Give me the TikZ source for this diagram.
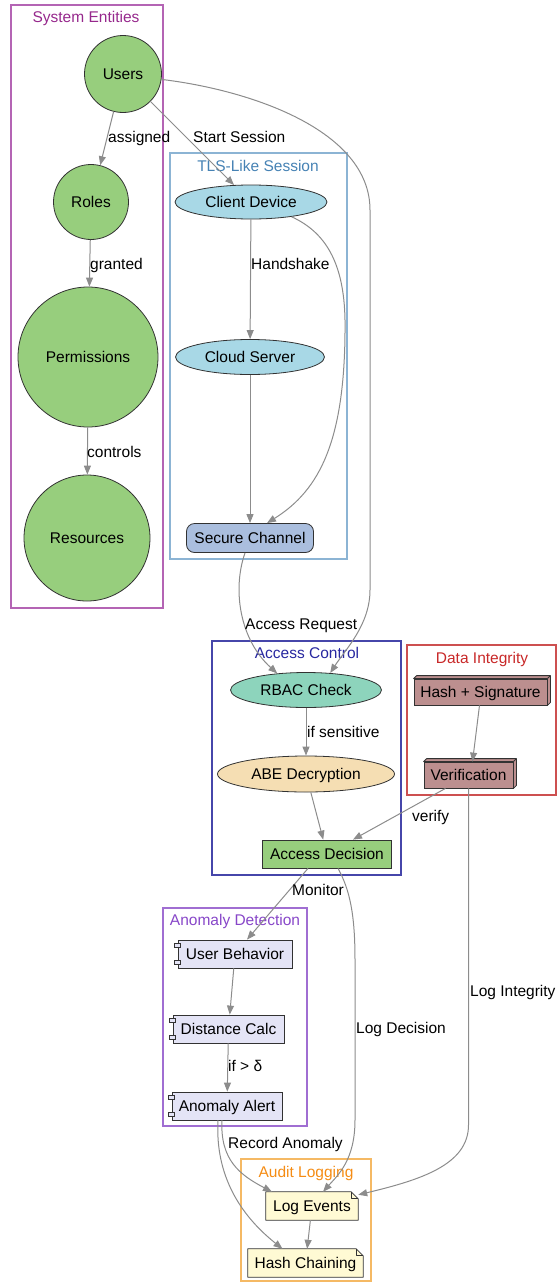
\documentclass[tikz,border=0pt]{standalone}
\usepackage{fontspec}
\setmainfont{Liberation Sans}
\usetikzlibrary{arrows.meta,shapes.geometric,backgrounds}
\definecolor{edgeclr}{RGB}{140,140,140}
\definecolor{nodeline}{RGB}{50,50,50}
\definecolor{greenfill}{RGB}{151,206,125}
\definecolor{bluefill}{RGB}{168,216,230}
\definecolor{steelfill}{RGB}{170,190,222}
\definecolor{aquafill}{RGB}{141,212,188}
\definecolor{wheatfill}{RGB}{245,222,179}
\definecolor{rosyfill}{RGB}{188,143,143}
\definecolor{lavfill}{RGB}{228,228,246}
\definecolor{notefill}{RGB}{255,250,212}
\definecolor{sysb}{RGB}{180,100,180}\definecolor{syst}{RGB}{150,40,140}
\definecolor{tlsb}{RGB}{140,180,212}\definecolor{tlst}{RGB}{70,130,180}
\definecolor{acb}{RGB}{70,70,170}\definecolor{act}{RGB}{40,40,160}
\definecolor{dib}{RGB}{205,80,80}\definecolor{dit}{RGB}{200,40,40}
\definecolor{adb}{RGB}{160,110,210}\definecolor{adt}{RGB}{135,70,200}
\definecolor{alb}{RGB}{245,185,100}\definecolor{alt}{RGB}{245,140,20}
\newcommand\boxdepth[1]{%
  \filldraw[draw=nodeline, fill=rosyfill, line width=0.8pt, line join=round]
    (#1.north west) -- ([xshift=3pt,yshift=3pt]#1.north west) -- ([xshift=3pt,yshift=3pt]#1.north east)
    -- ([xshift=3pt,yshift=3pt]#1.south east) -- (#1.south east) -- (#1.north east) -- cycle;
  \draw[draw=nodeline, line width=0.8pt] (#1.north east) -- ([xshift=3pt,yshift=3pt]#1.north east);}
\newcommand\compmarks[1]{%
  \filldraw[draw=nodeline, fill=lavfill, line width=0.8pt]
    ([xshift=-3pt,yshift=-4pt]#1.north west) rectangle ([xshift=3pt,yshift=-8pt]#1.north west)
    ([xshift=-3pt,yshift=4pt]#1.south west) rectangle ([xshift=3pt,yshift=8pt]#1.south west);}
\newcommand\notepath[1]{%
  \filldraw[draw=nodeline, fill=notefill, line width=0.8pt, line join=round]
    (#1.north west) -- ([xshift=-7pt]#1.north east) -- ([yshift=-7pt]#1.north east)
    -- (#1.south east) -- (#1.south west) -- cycle;
  \draw[draw=nodeline, line width=0.8pt, line join=round] ([xshift=-7pt]#1.north east)
    -- ([xshift=-7pt,yshift=-7pt]#1.north east) -- ([yshift=-7pt]#1.north east);}
\begin{document}
\begin{tikzpicture}[x=1pt,y=-1pt,
  every node/.style={font=\fontsize{15.5}{18}\selectfont, text=black, text height=11pt, text depth=0pt},
  cluster/.style={line width=1.2pt},
  circ/.style={circle, draw=nodeline, fill=greenfill, inner sep=0pt, line width=0.8pt},
  ell/.style={ellipse, draw=nodeline, inner sep=0pt, line width=0.8pt},
  boxnode/.style={rectangle, draw=nodeline, inner sep=0pt, line width=0.8pt},
  conn/.style={draw=edgeclr, line width=1pt, -{Triangle[length=9pt,width=7pt]}},
  lbl/.style={anchor=west, inner sep=0pt}]
\useasboundingbox (0,0) rectangle (559,1282);
% clusters
\draw[cluster,draw=sysb] (11,5) rectangle (163,608);
\node[text=syst] (tsys) at (86,17) {System Entities};
\draw[cluster,draw=tlsb] (170,153) rectangle (347,559);
\node[text=tlst] (ttls) at (258,166) {TLS-Like Session};
\draw[cluster,draw=acb] (212,641) rectangle (401,875);
\node[text=act] (tac) at (307,653) {Access Control};
\draw[cluster,draw=dib] (407,645) rectangle (556,795);
\node[text=dit] (tdi) at (482,658) {Data Integrity};
\draw[cluster,draw=adb] (163,908) rectangle (307,1126);
\node[text=adt] (tad) at (235,920) {Anomaly Detection};
\draw[cluster,draw=alb] (241,1159) rectangle (371,1281);
\node[text=alt] (tal) at (306,1172) {Audit Logging};
% nodes
\node[circ, minimum size=77pt] (users) at (123,74) {Users};
\node[circ, minimum size=75pt] (roles) at (91,202) {Roles};
\node[circ, minimum size=140pt] (perm) at (88,357) {Permissions};
\node[circ, minimum size=126pt] (res) at (87,538) {Resources};
\node[ell, fill=bluefill, minimum width=152pt, minimum height=34pt] (client) at (251,202) {Client Device};
\node[ell, fill=bluefill, minimum width=149pt, minimum height=35pt] (cloud) at (250,357) {Cloud Server};
\node[boxnode, rounded corners=8pt, fill=steelfill, minimum width=127pt, minimum height=29pt] (secure) at (250,538) {Secure Channel};
\node[ell, fill=aquafill, minimum width=151pt, minimum height=35pt] (rbac) at (306,690) {RBAC Check};
\node[ell, fill=wheatfill, minimum width=177pt, minimum height=36pt] (abe) at (306,774) {ABE Decryption};
\node[boxnode, fill=greenfill, minimum width=129pt, minimum height=28pt] (decision) at (327,854) {Access Decision};
\node[boxnode, fill=rosyfill, minimum width=133pt, minimum height=26pt] (hashsig) at (480.5,692) {Hash + Signature};
\boxdepth{hashsig}
\node[boxnode, fill=rosyfill, minimum width=89pt, minimum height=26pt] (verif) at (468.5,775) {Verification};
\boxdepth{verif}
\node[boxnode, fill=lavfill, minimum width=114pt, minimum height=28pt] (ubeh) at (235,954) {User Behavior};
\compmarks{ubeh}
\node[boxnode, fill=lavfill, minimum width=111pt, minimum height=28pt] (dist) at (228.5,1029) {Distance Calc};
\compmarks{dist}
\node[boxnode, fill=lavfill, minimum width=110pt, minimum height=28pt] (alert) at (227,1106) {Anomaly Alert};
\compmarks{alert}
\node[inner sep=0pt, minimum width=92pt, minimum height=28pt] (logev) at (312,1206) {Log Events};
\node[inner sep=0pt, minimum width=115pt, minimum height=28pt] (hashch) at (305.5,1263) {Hash Chaining};
\begin{scope}[on background layer]
\notepath{logev}
\notepath{hashch}
\end{scope}
% connectors
\draw[conn] (users) -- (roles);
\draw[conn] (users.-45) -- (client.135);
\draw[conn] (users.-8) .. controls (250,90) and (370,130) .. (370,210) -- (370,590)
  .. controls (370,625) and (345,650) .. (rbac.35);
\draw[conn] (roles) -- (perm);
\draw[conn] (perm) -- (res);
\draw[conn] (client) -- (cloud);
\draw[conn] (client.-20) .. controls (325,232) and (344,262) .. (345,320)
  .. controls (346,440) and (320,490) .. ([xshift=17pt]secure.north);
\draw[conn] (cloud) -- (secure);
\draw[conn] ([xshift=-5pt]secure.south) .. controls (232,590) and (240,640) .. (rbac.150);
\draw[conn] (rbac) -- (abe);
\draw[conn] (abe) -- (decision);
\draw[conn] ([xshift=-1pt]hashsig.south) -- ([xshift=4pt]verif.north);
\draw[conn] ([xshift=-23pt]verif.south) -- ([xshift=26pt]decision.north);
\draw[conn] ([xshift=-19pt]decision.south) -- ([xshift=12pt]ubeh.north);
\draw[conn] ([xshift=11pt]decision.south) .. controls (350,890) and (355,915) .. (355,960) -- (355,1120)
  .. controls (355,1160) and (338,1175) .. ([xshift=11pt]logev.north);
\draw[conn] (verif.south) -- (468.5,1125) .. controls (468.5,1165) and (420,1180) .. ([yshift=-3pt]logev.north east);
\draw[conn] (ubeh) -- (dist);
\draw[conn] (dist) -- (alert);
\draw[conn] ([xshift=-5pt]alert.south) .. controls (220,1160) and (240,1175) .. ([xshift=-40pt]logev.north);
\draw[conn] ([xshift=-9pt]alert.south) .. controls (215,1175) and (240,1215) .. ([xshift=-23pt]hashch.north);
\draw[conn] (logev) -- (hashch);
% labels
\node[lbl] (l1) at (108,137) {assigned};
\node[lbl] (l2) at (193,137) {Start Session};
\node[lbl] (l3) at (90,264) {granted};
\node[lbl] (l4) at (87,452) {controls};
\node[lbl] (l5) at (251,264) {Handshake};
\node[lbl] (l6) at (245,624) {Access Request};
\node[lbl] (l7) at (307,732) {if sensitive};
\node[lbl] (l8) at (412,816) {verify};
\node[lbl] (l9) at (292,890) {Monitor};
\node[lbl] (l10) at (356,1028) {Log Decision};
\node[lbl] (l11) at (470,991) {Log Integrity};
\node[lbl] (l12) at (228,1066) {if > δ};
\node[lbl] (l13) at (228,1143) {Record Anomaly};
\end{tikzpicture}
\end{document}
